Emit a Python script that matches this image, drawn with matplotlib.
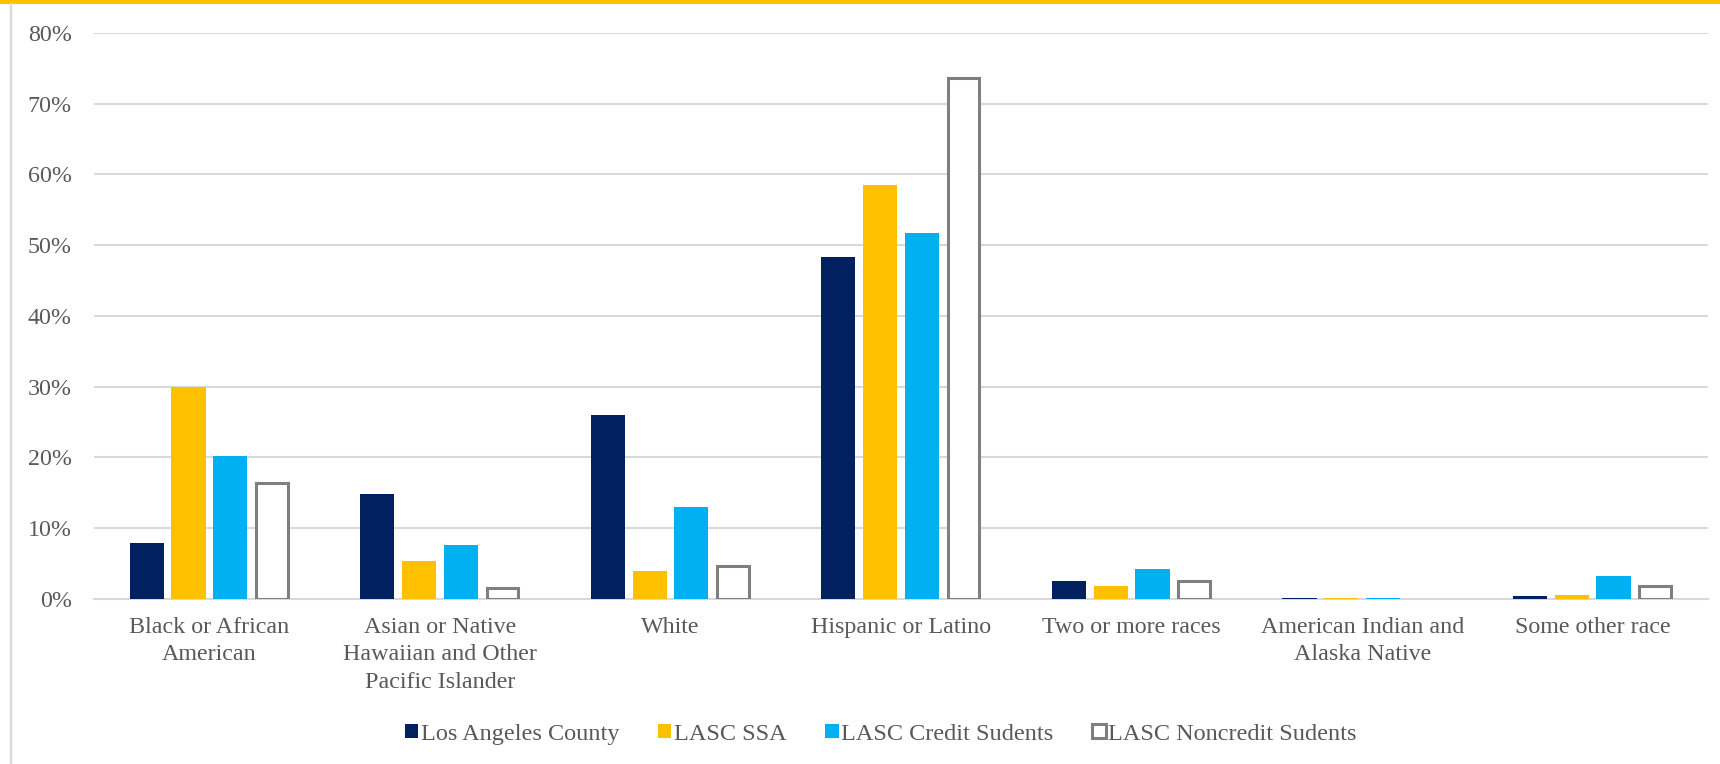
#!/usr/bin/env python3
"""
Race/ethnicity comparison: Los Angeles County vs LASC groups.
"""

import numpy as np
import matplotlib
matplotlib.use("Agg")
import matplotlib.pyplot as plt
from matplotlib.patches import Rectangle
from matplotlib.lines import Line2D

categories = [
    "Black or African\nAmerican",
    "Asian or Native\nHawaiian and Other\nPacific Islander",
    "White",
    "Hispanic or Latino",
    "Two or more races",
    "American Indian and\nAlaska Native",
    "Some other race",
]
series_names = ["Los Angeles County", "LASC SSA", "LASC Credit Sudents", "LASC Noncredit Sudents"]
la_county = [7.9, 14.9, 26.0, 48.3, 2.6, 0.2, 0.4]
lasc_ssa = [30.0, 5.3, 3.9, 58.5, 1.8, 0.1, 0.6]
lasc_credit = [20.2, 7.7, 13.0, 51.7, 4.3, 0.1, 3.3]
lasc_noncredit = [16.4, 1.5, 4.6, 73.7, 2.6, 0.0, 1.9]

colors = ["#002060", "#FFC000", "#00B0F0", "white"]
text_grey = "#595959"
grid_grey = "#D9D9D9"
edge_grey = "#7F7F7F"

plt.rcParams["font.family"] = ["Liberation Serif", "DejaVu Serif"]

fig = plt.figure(figsize=(17.2, 7.64), dpi=100)
ax = fig.add_axes([0.0547, 0.216, 0.993 - 0.0547, 0.9568 - 0.216])

x = np.arange(len(categories))
step = 0.181
width = 0.148
all_series = [la_county, lasc_ssa, lasc_credit, lasc_noncredit]
for i, vals in enumerate(all_series):
    pos = x + (i - 1.5) * step
    if i == 3:
        edges = [edge_grey if v > 0 else "none" for v in vals]
        ax.bar(pos, vals, width * 0.93, color="white", edgecolor=edges,
               linewidth=2.2, zorder=3)
    else:
        ax.bar(pos, vals, width, color=colors[i], zorder=3)

ax.set_xlim(-0.5, len(categories) - 0.5)
ax.set_ylim(0, 80)
ax.set_yticks(np.arange(0, 81, 10))
ax.set_yticklabels([f"{v}%" for v in range(0, 81, 10)])
ax.set_xticks(x)
ax.set_xticklabels(categories, linespacing=1.4, va="top")
ax.tick_params(axis="both", length=0, labelsize=17.3, labelcolor=text_grey)
ax.tick_params(axis="x", pad=13)
ax.tick_params(axis="y", pad=16)
ax.grid(axis="y", color=grid_grey, linewidth=1.5, zorder=0)
ax.set_axisbelow(True)
for side in ["top", "right", "left"]:
    ax.spines[side].set_visible(False)
ax.spines["bottom"].set_color(grid_grey)
ax.spines["bottom"].set_linewidth(1.5)

handles = [Rectangle((0, 0), 1, 1, facecolor=colors[0]),
           Rectangle((0, 0), 1, 1, facecolor=colors[1]),
           Rectangle((0, 0), 1, 1, facecolor=colors[2]),
           Rectangle((0, 0), 1, 1, facecolor="white", edgecolor=edge_grey, linewidth=2.2)]
leg = fig.legend(handles, series_names, loc="center", bbox_to_anchor=(0.512, 0.039),
                 ncol=4, frameon=False, fontsize=17.5, handlelength=0.55, handleheight=0.55,
                 handletextpad=0.1, columnspacing=1.6)
for t in leg.get_texts():
    t.set_color(text_grey)

# yellow header band and left border line
fig.add_artist(Rectangle((0, 1 - 3.5 / 764), 1, 3.5 / 764, transform=fig.transFigure,
                         facecolor="#FFC000", edgecolor="none"))
fig.add_artist(Line2D([11 / 1720, 11 / 1720], [0, 1 - 3.5 / 764], transform=fig.transFigure,
                      color=grid_grey, linewidth=1.6))

fig.savefig("out.png", dpi=100)
